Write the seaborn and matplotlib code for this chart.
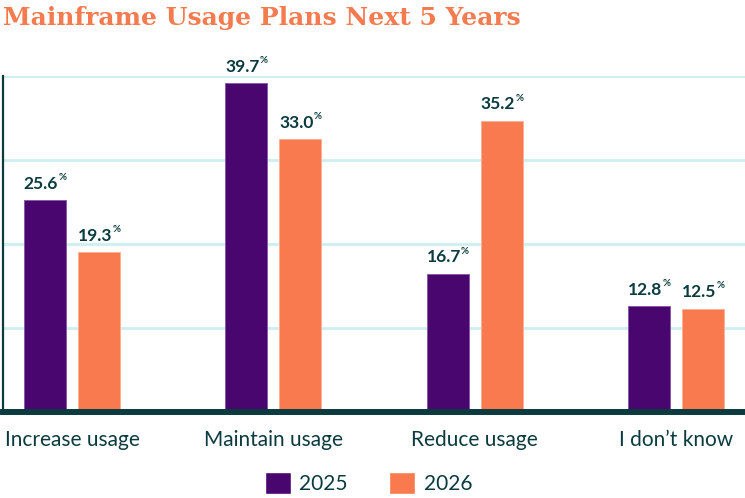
import pandas as pd
import numpy as np
import matplotlib
matplotlib.use("Agg")
import matplotlib.pyplot as plt
import seaborn as sns

categories = ["Increase usage", "Maintain usage", "Reduce usage", "I don\u2019t know"]
years = ["2025", "2026"]
values_2025 = [25.6, 39.7, 16.7, 12.8]
values_2026 = [19.3, 33.0, 35.2, 12.5]

df = pd.DataFrame({
    "category": categories * 2,
    "year": [years[0]] * 4 + [years[1]] * 4,
    "value": values_2025 + values_2026,
})

purple = "#48066E"
orange = "#F87A4E"
dark = "#0B3B3E"
grid_c = "#CDEFF1"

sns.set_theme(style="white")
plt.rcParams["font.family"] = ["Lato", "DejaVu Sans"]

fig = plt.figure(figsize=(7.45, 4.98), dpi=100)
ax = fig.add_axes([3 / 745, 1 - 412 / 498, 742 / 745, 336 / 498])

sns.barplot(data=df, x="category", y="value", hue="year", order=categories,
            hue_order=years, palette=[purple, orange], width=0.537, gap=0.22,
            saturation=1, ax=ax, legend=True)

for bar, col in zip(ax.patches, [purple] * 4 + [orange] * 4):
    bar.set_edgecolor("#8a5aa8" if col == purple else "#fbb196")
    bar.set_linewidth(0.7)

ymax = 40.6
ax.set_ylim(0, ymax)
ax.set_xlim(-0.343, 3.343)
ax.set_yticks(np.linspace(0, ymax, 5)[1:])
ax.yaxis.grid(True, color=grid_c, lw=2)
ax.set_axisbelow(True)
ax.set_yticklabels([])
ax.tick_params(axis="y", length=0)
ax.tick_params(axis="x", length=0, pad=13, labelsize=15, labelcolor=dark)
ax.set_xlabel("")
ax.set_ylabel("")
for s in ["top", "right"]:
    ax.spines[s].set_visible(False)
ax.spines["left"].set_color(dark)
ax.spines["left"].set_linewidth(1.6)
ax.spines["bottom"].set_color(dark)
ax.spines["bottom"].set_linewidth(4.3)

# value labels with small superscript %
for bar in ax.patches[:8]:
    x = bar.get_x() + bar.get_width() / 2
    h = bar.get_height()
    ax.annotate(f"{h:.1f}", (x, h), xytext=(9.5, 6), textcoords="offset points",
                ha="right", va="bottom", fontsize=12.5, fontweight="bold", color=dark)
    ax.annotate("%", (x, h), xytext=(9.7, 13), textcoords="offset points",
                ha="left", va="bottom", fontsize=7, fontweight="bold", color=dark)

leg = ax.legend(loc="center", bbox_to_anchor=(370 / 745 - 3 / 742, 1 - (483 - 76) / 336),
                bbox_transform=ax.transAxes, ncol=2, frameon=False, fontsize=15,
                handlelength=1.25, handleheight=1.25, columnspacing=2.0, handletextpad=0.4)
for t in leg.get_texts():
    t.set_color(dark)

fig.text(3 / 745, 1 - 18 / 498, "Mainframe Usage Plans Next 5 Years", ha="left", va="center",
         fontsize=18, fontweight="bold", color="#F47A4F", family="DejaVu Serif")

fig.savefig("out.png", dpi=100)
